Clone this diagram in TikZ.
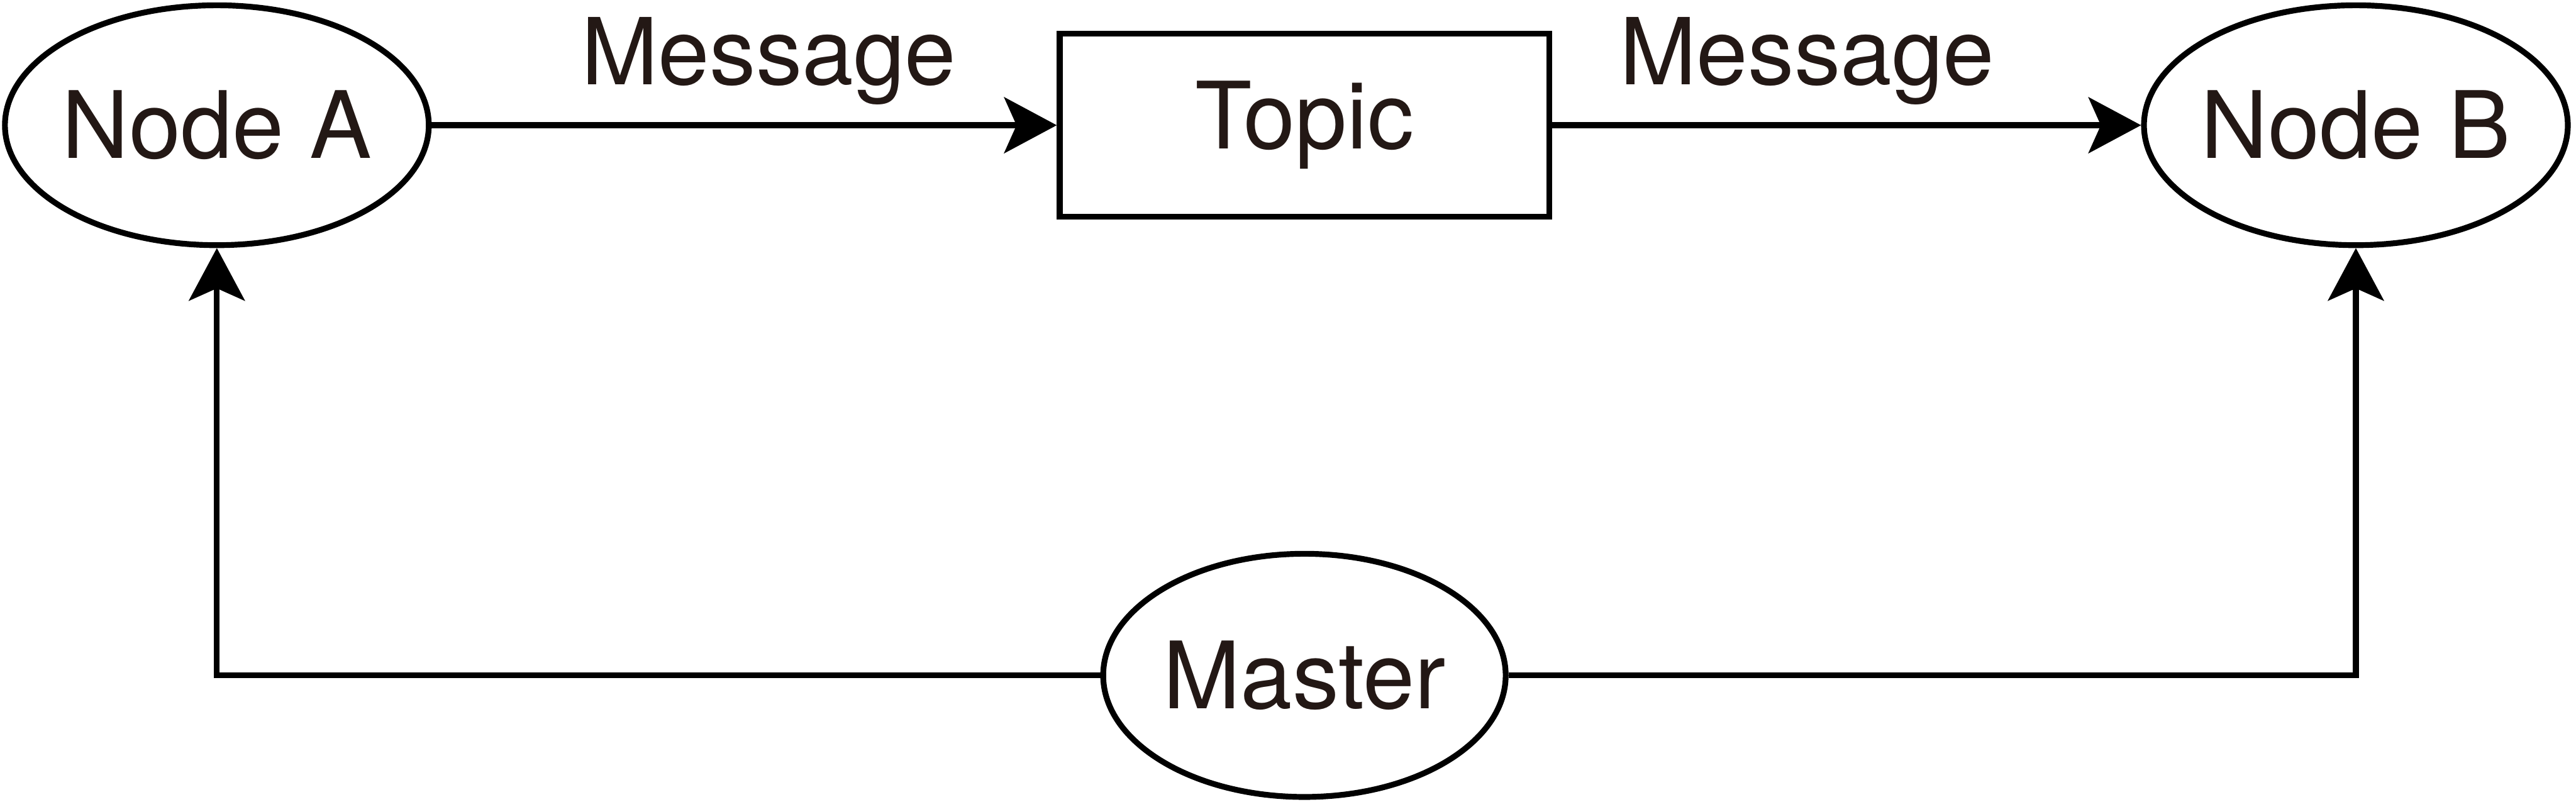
\documentclass[tikz,border=0pt]{standalone}
\usepackage{fontspec}
\setmainfont{TeX Gyre Heros}
\usepackage{tikz}
\usetikzlibrary{positioning,calc}
\usetikzlibrary{arrows.meta,shapes.geometric}
\definecolor{InkDark}{RGB}{35,24,21}
\tikzset{
  ent/.style={ellipse,draw=black,line width=1pt,fill=white,inner sep=0pt,inner xsep=-1mm,
    minimum width=2.58cm,minimum height=1.46cm,text=InkDark,font=\fontsize{16.1}{19}\selectfont},
  box/.style={rectangle,draw=black,line width=1pt,fill=white,inner sep=0pt,
    minimum width=2.98cm,minimum height=1.115cm,text=InkDark,font=\fontsize{16.1}{19}\selectfont},
  link/.style={draw=black,line width=1pt},
}
\tikzset{msg/.style={anchor=base,inner sep=0pt,text=InkDark,font=\fontsize{16}{19}\selectfont},
  flow/.style={link,-{Stealth[length=3.2mm,width=3.4mm,inset=0.75mm]}}}

\begin{document}
\begin{tikzpicture}
\useasboundingbox (0,0) rectangle (15.68,4.877);
\node[ent] (nodeA) at (1.32,4.115) {Node A};
\node[box] (topic) at (7.94,4.115) {Topic};
\node[ent] (nodeB) at (14.34,4.115) {Node B};
\node[ent,minimum width=2.45cm,minimum height=1.48cm] (master) at (7.94,0.767) {Master};
\draw[flow] (nodeA) -- (topic);
\draw[flow] (topic) -- (nodeB);
\draw[flow] (master.west) -| (nodeA.south);
\draw[flow] (master.east) -| (nodeB.south);
\node[msg] (msgAB) at (4.68,4.361) {Message};
\node[msg] (msgTB) at (11.0,4.361) {Message};
\end{tikzpicture}
\end{document}
